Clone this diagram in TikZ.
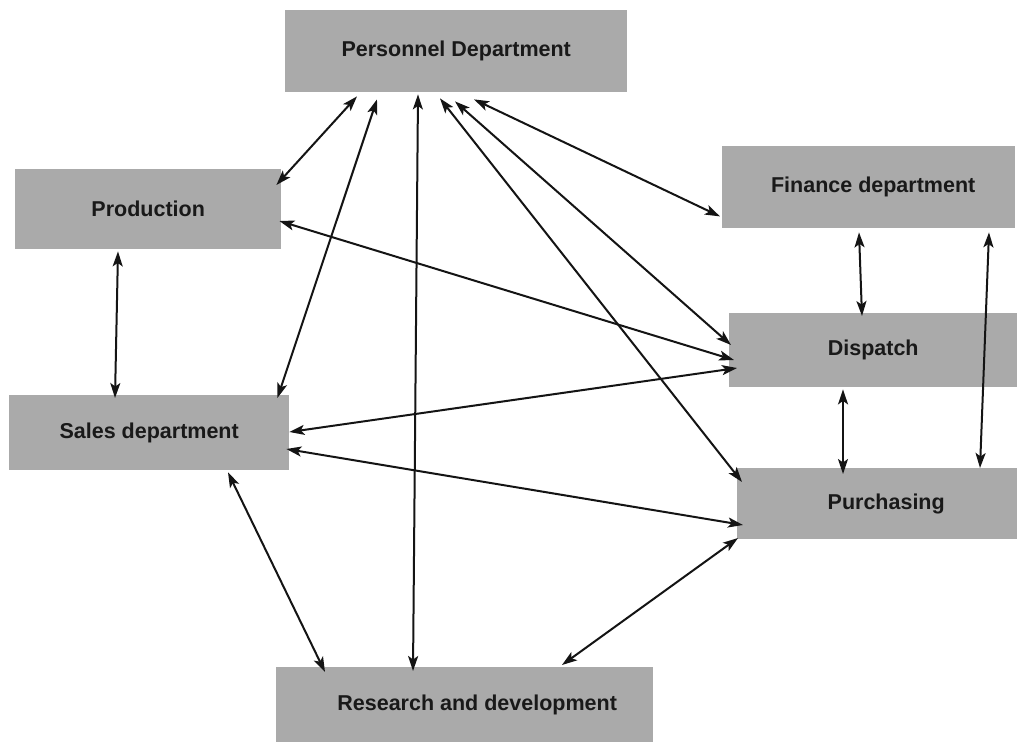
\documentclass[tikz,border=0pt]{standalone}
\usepackage{fontspec}
\setmainfont{Liberation Sans}
\usetikzlibrary{arrows.meta,calc}
\definecolor{boxgray}{RGB}{170,170,170}
\definecolor{linegray}{RGB}{20,20,20}
\begin{document}
\begin{tikzpicture}[x=1pt,y=-1pt,
  box/.style={fill=boxgray, draw=none, inner sep=0pt, anchor=north west,
    font=\fontsize{21.5}{26}\selectfont\bfseries, text=black!90},
  link/.style={line width=2pt, draw=linegray,
    {Stealth[length=15pt,width=10pt,inset=3.5pt]}-{Stealth[length=15pt,width=10pt,inset=3.5pt]}}]
\useasboundingbox[fill=white] (0,0) rectangle (1017,742);
% boxes
\node[box, minimum width=342pt, minimum height=82pt] (pers)  at (285,10)  {Personnel Department};
\node[box, minimum width=266pt, minimum height=80pt] (prod)  at (15,169)  {Production};
\node[box, minimum width=293pt, minimum height=82pt] (fin)   at (722,146) {\hspace*{9pt}Finance department};
\node[box, minimum width=288pt, minimum height=74pt] (disp)  at (729,313) {Dispatch};
\node[box, minimum width=280pt, minimum height=71pt] (purch) at (737,468) {\hspace*{18pt}Purchasing};
\node[box, minimum width=280pt, minimum height=75pt] (sales) at (9,395)   {Sales department};
\node[box, minimum width=377pt, minimum height=75pt] (rd)    at (276,667) {\hspace*{25pt}Research and development};
% connectors
\draw[link] ($(pers.south west)+(72,4)$)  -- ($(prod.north east)+(-5,16)$);
\draw[link] ($(pers.south west)+(92,7)$)  -- ($(sales.north east)+(-12,3)$);
\draw[link] ($(pers.south west)+(133,2)$) -- ($(rd.north west)+(137,4)$);
\draw[link] ($(pers.south west)+(155,6)$) -- ($(purch.north west)+(5,14)$);
\draw[link] ($(pers.south west)+(170,9)$) -- ($(disp.north west)+(2,32)$);
\draw[link] ($(pers.south west)+(189,7)$) -- ($(fin.south west)+(-2,-12)$);
\draw[link] ($(prod.north east)+(-2,52)$) -- ($(disp.north west)+(5,47)$);
\draw[link] ($(prod.south west)+(103,2)$) -- ($(sales.north west)+(106,3)$);
\draw[link] ($(disp.north west)+(8,55)$)  -- ($(sales.north east)+(0,37)$);
\draw[link] ($(sales.north east)+(-3,54)$) -- ($(purch.north west)+(6,57)$);
\draw[link] ($(sales.south west)+(219,2)$) -- ($(rd.north west)+(49,5)$);
\draw[link] ($(rd.north west)+(286,-2)$)  -- ($(purch.north west)+(1,70)$);
\draw[link] ($(fin.south west)+(137,4)$)  -- ($(disp.north west)+(133,3)$);
\draw[link] ($(fin.south west)+(267,4)$)  -- ($(purch.north west)+(243,0)$);
\draw[link] ($(disp.south west)+(114,2)$) -- ($(purch.north west)+(106,6)$);
\end{tikzpicture}
\end{document}
